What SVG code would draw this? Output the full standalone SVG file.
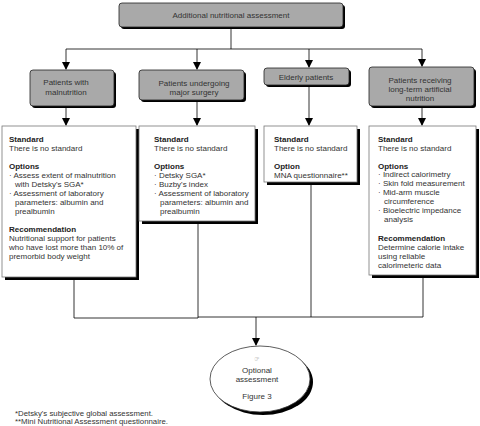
<svg xmlns="http://www.w3.org/2000/svg" width="480" height="426" viewBox="0 0 480 426">
<defs>
<style>
text{font-family:"Liberation Sans",Arial,sans-serif;font-size:8px;fill:#333}
.c{text-anchor:middle}
.b{font-weight:bold;fill:#222}
.hdr{fill:#a9a9a9;stroke:#222;stroke-width:0.8}
.sh{fill:#000}
.box{fill:#fff;stroke:#777;stroke-width:0.8}
.ln{fill:none;stroke:#000;stroke-width:0.8}
.fn{font-size:7.8px}
</style>
<marker id="ah" markerWidth="8" markerHeight="8" refX="7" refY="4" orient="auto" markerUnits="userSpaceOnUse">
<path d="M0,0 L8,4 L0,8 Z" fill="#000"/>
</marker>
</defs>
<rect width="480" height="426" fill="#fff"/>

<g id="connectors">
<path class="ln" d="M231,28 V49 M66,49 H422"/>
<path class="ln" d="M66,49 V69" marker-end="url(#ah)"/>
<path class="ln" d="M197,49 V69" marker-end="url(#ah)"/>
<path class="ln" d="M309,49 V67" marker-end="url(#ah)"/>
<path class="ln" d="M422,49 V66" marker-end="url(#ah)"/>
<path class="ln" d="M66,108 V125" marker-end="url(#ah)"/>
<path class="ln" d="M197,102 V125" marker-end="url(#ah)"/>
<path class="ln" d="M309,87 V125" marker-end="url(#ah)"/>
<path class="ln" d="M422,108 V125" marker-end="url(#ah)"/>
<path class="ln" d="M74,280 V318 H198 M198,223 V318 M311,185 V317 M423,277 V317 H198"/>
<path class="ln" d="M256,317 V345" marker-end="url(#ah)" stroke-width="1.2"/>
</g>

<g id="top">
<rect class="sh" x="121" y="5" width="224" height="24" rx="3"/>
<rect class="hdr" x="119" y="3" width="224" height="24" rx="3"/>
<text class="c" x="231" y="18">Additional nutritional assessment</text>
</g>

<g id="h1">
<rect class="sh" x="32" y="72" width="84" height="36" rx="3"/>
<rect class="hdr" x="30" y="70" width="84" height="36" rx="3"/>
<text class="c" x="66" y="85">Patients with</text>
<text class="c" x="66" y="95">malnutrition</text>
</g>
<g id="h2">
<rect class="sh" x="141" y="72" width="105" height="30" rx="3"/>
<rect class="hdr" x="139" y="70" width="105" height="30" rx="3"/>
<text class="c" x="194" y="86">Patients undergoing</text>
<text class="c" x="194" y="95">major surgery</text>
</g>
<g id="h3">
<rect class="sh" x="266" y="70" width="85" height="17" rx="3"/>
<rect class="hdr" x="264" y="68" width="85" height="17" rx="3"/>
<text class="c" x="306" y="80">Elderly patients</text>
</g>
<g id="h4">
<rect class="sh" x="371" y="69" width="105" height="39" rx="3"/>
<rect class="hdr" x="369" y="67" width="105" height="39" rx="3"/>
<text class="c" x="420" y="83">Patients receiving</text>
<text class="c" x="420" y="92">long-term artificial</text>
<text class="c" x="420" y="101">nutrition</text>
</g>

<g id="b1">
<rect class="sh" x="5" y="129" width="134" height="151"/>
<rect class="box" x="2" y="126" width="134" height="151"/>
<text class="b" x="9" y="142">Standard</text>
<text x="9" y="151">There is no standard</text>
<text class="b" x="9" y="169">Options</text>
<text x="9" y="178">· Assess extent of malnutrition</text>
<text x="15" y="187">with Detsky's SGA*</text>
<text x="9" y="196">· Assessment of laboratory</text>
<text x="15" y="205">parameters: albumin and</text>
<text x="15" y="214">prealbumin</text>
<text class="b" x="9" y="232">Recommendation</text>
<text x="9" y="241">Nutritional support for patients</text>
<text x="9" y="250">who have lost more than 10% of</text>
<text x="9" y="259">premorbid body weight</text>
</g>

<g id="b2">
<rect class="sh" x="142" y="129" width="116" height="95"/>
<rect class="box" x="139" y="126" width="116" height="95"/>
<text class="b" x="154" y="142">Standard</text>
<text x="154" y="151">There is no standard</text>
<text class="b" x="154" y="169">Options</text>
<text x="154" y="178">· Detsky SGA*</text>
<text x="154" y="187">· Buzby's index</text>
<text x="154" y="196">· Assessment of laboratory</text>
<text x="160" y="205">parameters: albumin and</text>
<text x="160" y="214">prealbumin</text>
</g>

<g id="b3">
<rect class="sh" x="267" y="129" width="93" height="56"/>
<rect class="box" x="264" y="126" width="93" height="56"/>
<text class="b" x="274" y="142">Standard</text>
<text x="274" y="151">There is no standard</text>
<text class="b" x="274" y="169">Option</text>
<text x="274" y="178">MNA questionnaire**</text>
</g>

<g id="b4">
<rect class="sh" x="372" y="129" width="107" height="149"/>
<rect class="box" x="369" y="126" width="107" height="149"/>
<text class="b" x="378" y="142">Standard</text>
<text x="378" y="151">There is no standard</text>
<text class="b" x="378" y="169">Options</text>
<text x="378" y="177">· Indirect calorimetry</text>
<text x="378" y="186">· Skin fold measurement</text>
<text x="378" y="195">· Mid-arm muscle</text>
<text x="384" y="204">circumference</text>
<text x="378" y="213">· Bioelectric impedance</text>
<text x="384" y="222">analysis</text>
<text class="b" x="378" y="241">Recommendation</text>
<text x="378" y="250">Determine calorie intake</text>
<text x="378" y="259">using reliable</text>
<text x="378" y="268">calorimeteric data</text>
</g>

<g id="end">
<ellipse class="sh" cx="263" cy="382" rx="50" ry="33"/>
<ellipse cx="260" cy="379" rx="50" ry="33" fill="#fff" stroke="#333" stroke-width="0.8"/>
<text class="c" x="257" y="361" style="font-family:'DejaVu Sans',sans-serif;font-size:6px;fill:#888">☞</text>
<text class="c" x="257" y="373">Optional</text>
<text class="c" x="257" y="382">assessment</text>
<text class="c" x="257" y="399">Figure 3</text>
</g>

<g id="notes">
<text class="fn" x="15" y="416">*Detsky's subjective global assessment.</text>
<text class="fn" x="15" y="424">**Mini Nutritional Assessment questionnaire.</text>
</g>
</svg>
